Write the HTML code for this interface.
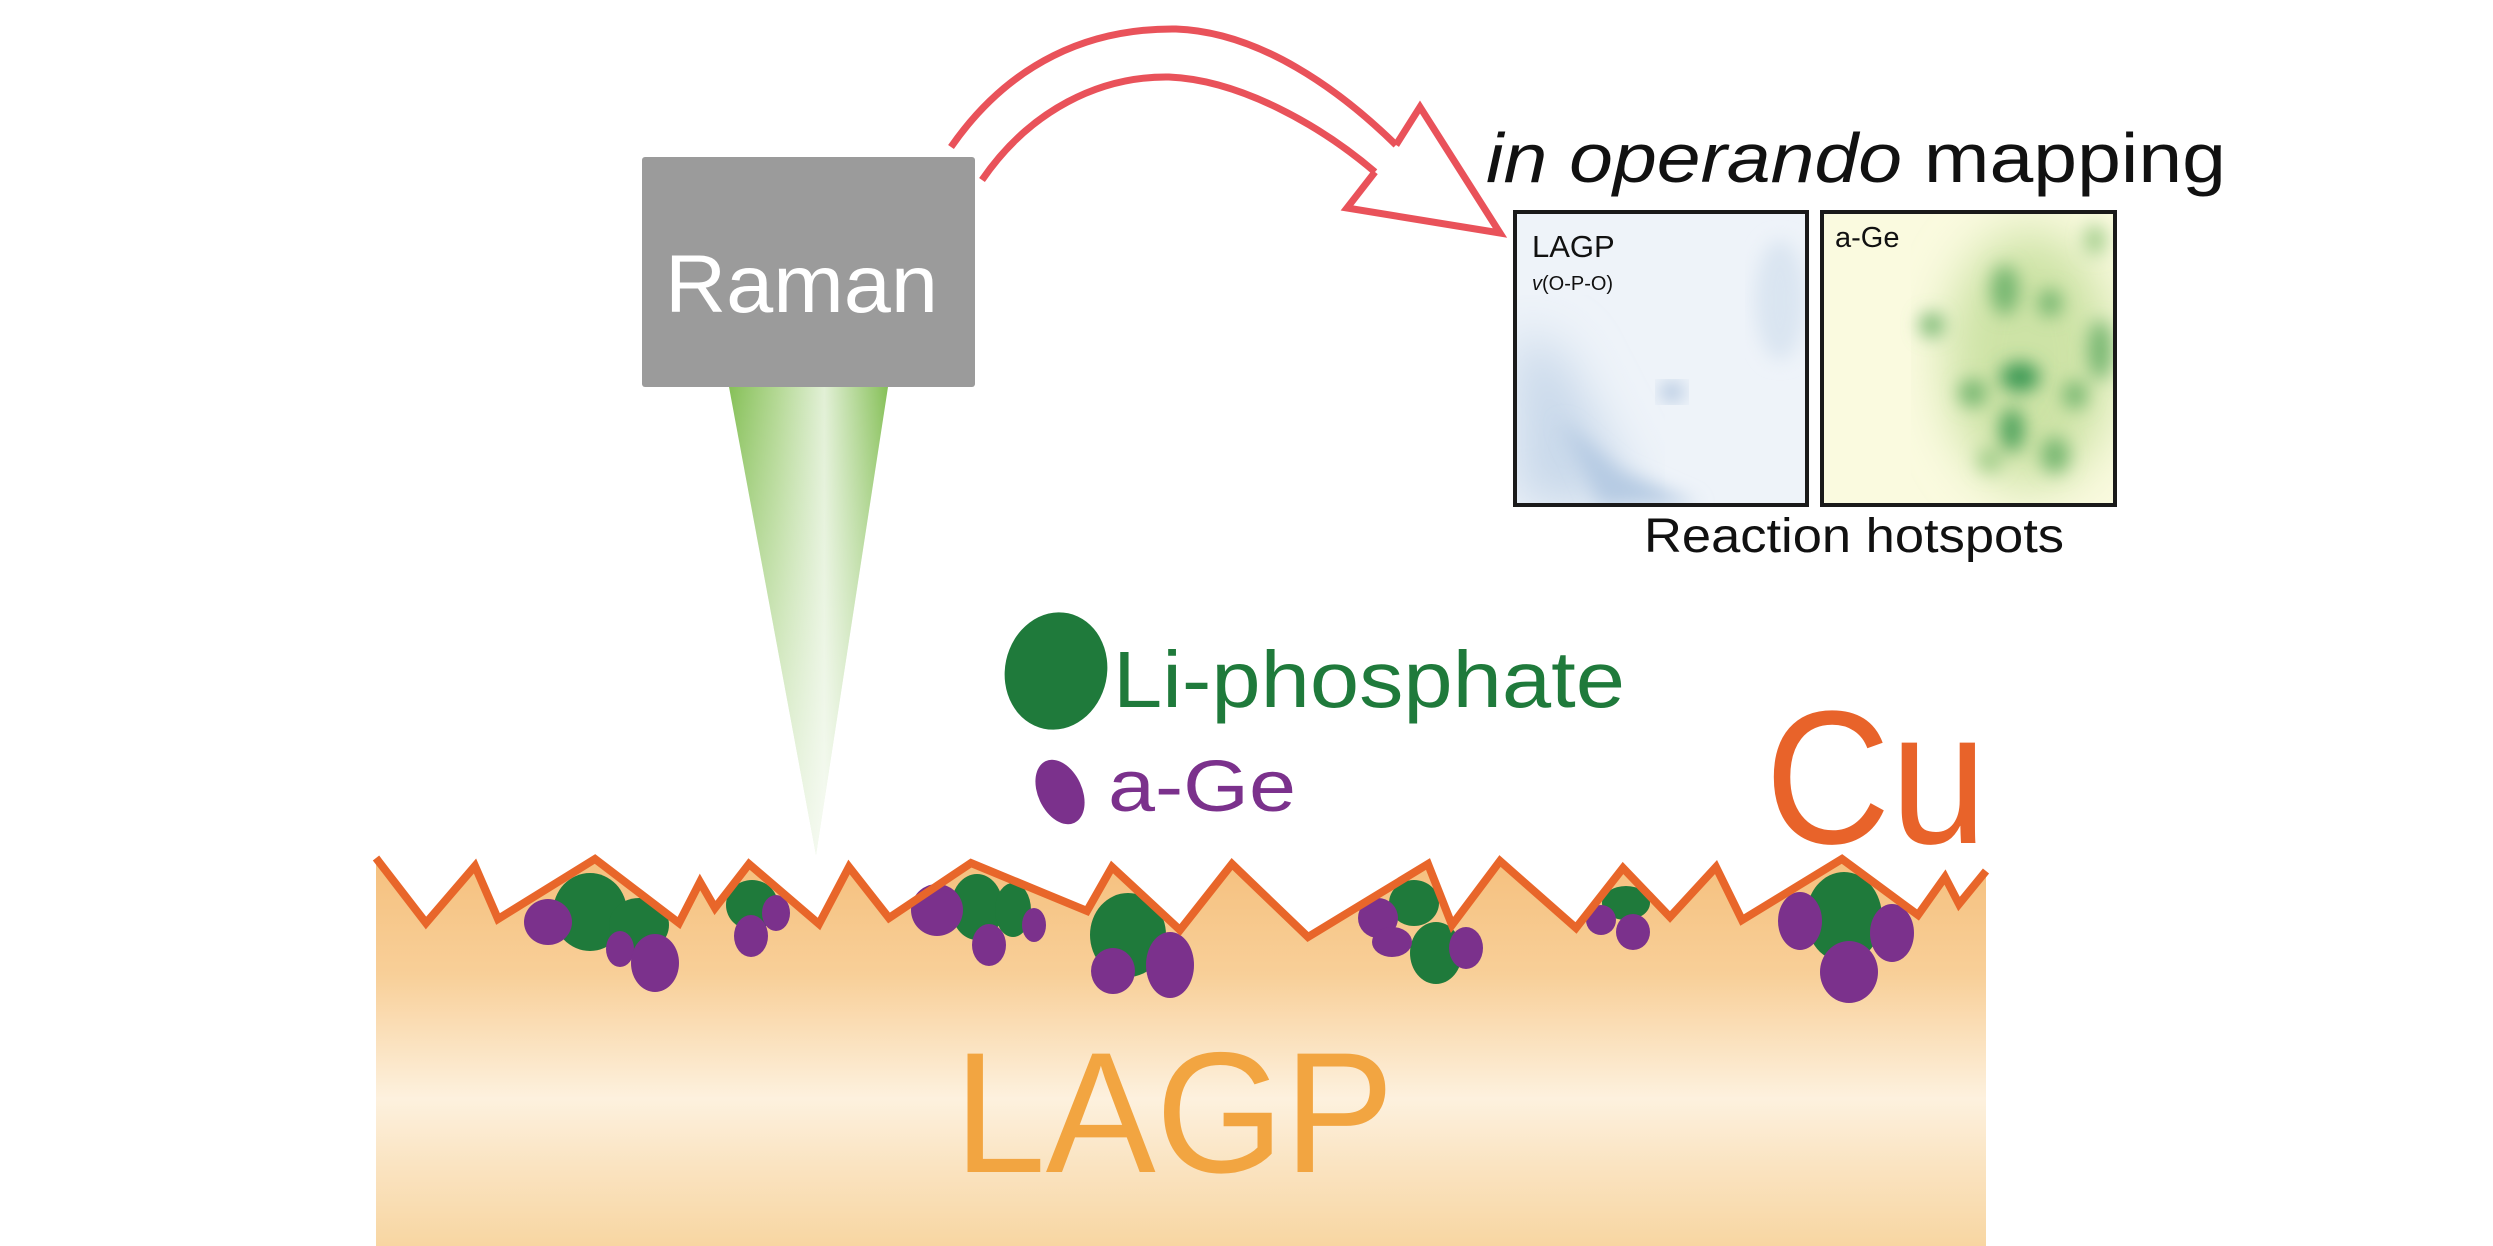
<!DOCTYPE html>
<html><head><meta charset="utf-8"><style>
html,body{margin:0;padding:0;background:#fff;}
svg{display:block;}
text{font-family:"Liberation Sans",Arial,sans-serif;}
</style></head><body>
<svg width="2493" height="1246" viewBox="0 0 2493 1246" xmlns="http://www.w3.org/2000/svg">
<defs>
<linearGradient id="lagp" x1="0" y1="0" x2="0" y2="1" gradientUnits="objectBoundingBox">
<stop offset="0" stop-color="#f5c07e"/>
<stop offset="0.3" stop-color="#f8cf98"/>
<stop offset="0.62" stop-color="#fdf1de"/>
<stop offset="0.8" stop-color="#fae3c0"/>
<stop offset="1" stop-color="#f8d6a2"/>
</linearGradient>
<linearGradient id="beamH" x1="729" y1="0" x2="888" y2="0" gradientUnits="userSpaceOnUse">
<stop offset="0" stop-color="#86c058"/>
<stop offset="0.3" stop-color="#b3d893"/>
<stop offset="0.6" stop-color="#e2f0d6"/>
<stop offset="1" stop-color="#86c058"/>
</linearGradient>
<linearGradient id="beamV" x1="0" y1="387" x2="0" y2="855" gradientUnits="userSpaceOnUse">
<stop offset="0" stop-color="#fff" stop-opacity="0"/>
<stop offset="1" stop-color="#fff" stop-opacity="0.7"/>
</linearGradient>
<filter id="blur" x="-20%" y="-20%" width="140%" height="140%"><feGaussianBlur stdDeviation="9"/></filter>
<filter id="blur2" x="-20%" y="-20%" width="140%" height="140%"><feGaussianBlur stdDeviation="25"/></filter>
<clipPath id="c1"><rect x="1515" y="212" width="292" height="293"/></clipPath>
<clipPath id="c2"><rect x="1822" y="212" width="293" height="293"/></clipPath>
</defs>

<path d="M376,858 L426,923 L475,866 L498,919 L595,859 L679,923 L700,882 L715,908 L749,864 L819,924 L849,867 L889,918 L971,863 L1087,911 L1112,867 L1180,930 L1232,864 L1308,937 L1428,864 L1452,925 L1500,861 L1576,928 L1623,868 L1670,917 L1716,867 L1742,920 L1842,859 L1918,915 L1945,877 L1959,904 L1986,871 L1986,1246 L376,1246 Z" fill="url(#lagp)"/>

<g fill="#1f7a3b">
<ellipse cx="590" cy="912" rx="37" ry="39"/><ellipse cx="639" cy="925" rx="30" ry="27"/>
<ellipse cx="752" cy="905" rx="26" ry="25"/>
<ellipse cx="977" cy="907" rx="26" ry="33"/><ellipse cx="1013" cy="910" rx="18" ry="27"/>
<ellipse cx="1128" cy="935" rx="38" ry="42"/>
<ellipse cx="1414" cy="903" rx="25" ry="23"/><ellipse cx="1436" cy="953" rx="26" ry="31"/>
<ellipse cx="1626" cy="903" rx="24" ry="17"/>
<ellipse cx="1844" cy="917" rx="38" ry="45"/>
</g>
<g fill="#7b318c">
<ellipse cx="548" cy="922" rx="24" ry="23"/><ellipse cx="620" cy="949" rx="14" ry="18"/><ellipse cx="655" cy="963" rx="24" ry="29"/>
<ellipse cx="776" cy="913" rx="14" ry="18"/><ellipse cx="751" cy="936" rx="17" ry="21"/>
<ellipse cx="937" cy="910" rx="26" ry="26"/><ellipse cx="1034" cy="925" rx="12" ry="17"/><ellipse cx="989" cy="945" rx="17" ry="21"/>
<ellipse cx="1113" cy="971" rx="22" ry="23"/><ellipse cx="1170" cy="965" rx="24" ry="33"/>
<ellipse cx="1378" cy="918" rx="20" ry="20"/><ellipse cx="1392" cy="942" rx="20" ry="15"/><ellipse cx="1466" cy="948" rx="17" ry="21"/>
<ellipse cx="1601" cy="920" rx="15" ry="15"/><ellipse cx="1633" cy="932" rx="17" ry="18"/>
<ellipse cx="1800" cy="921" rx="22" ry="29"/><ellipse cx="1892" cy="933" rx="22" ry="29"/><ellipse cx="1849" cy="972" rx="29" ry="31"/>
</g>

<polyline points="376,858 426,923 475,866 498,919 595,859 679,923 700,882 715,908 749,864 819,924 849,867 889,918 971,863 1087,911 1112,867 1180,930 1232,864 1308,937 1428,864 1452,925 1500,861 1576,928 1623,868 1670,917 1716,867 1742,920 1842,859 1918,915 1945,877 1959,904 1986,871" fill="none" stroke="#e8662a" stroke-width="8" stroke-linejoin="miter"/>

<text x="954" y="1172" font-size="172" fill="#f2a541" textLength="440" lengthAdjust="spacingAndGlyphs">LAGP</text>

<polygon points="729,387 888,387 816,855" fill="url(#beamH)"/>
<polygon points="729,387 888,387 816,855" fill="url(#beamV)"/>

<rect x="642" y="157" width="333" height="230" rx="3" fill="#9b9b9b"/>
<text x="665" y="312" font-size="82" fill="#fff" textLength="273" lengthAdjust="spacingAndGlyphs">Raman</text>

<g fill="none" stroke="#e9525a" stroke-width="7" stroke-linejoin="miter">
<path d="M951,147 C1010,62 1090,28 1176,29 C1260,32 1340,90 1396,145"/>
<path d="M982,180 C1030,110 1100,76 1169,77 C1240,80 1320,125 1375,172"/>
<polyline points="1375,172 1347,208 1500,233 1420,107 1396,145"/>
</g>

<text x="1486" y="182" font-size="70" fill="#111" textLength="740" lengthAdjust="spacingAndGlyphs"><tspan font-style="italic">in operando</tspan> mapping</text>

<g clip-path="url(#c1)">
<rect x="1515" y="212" width="292" height="293" fill="#eef3f9"/>
<path d="M1515,330 L1560,350 L1640,505 L1515,505 Z" fill="#c8d8ea" filter="url(#blur2)"/>
<path d="M1600,505 L1560,420 L1620,470 L1700,505 Z" fill="#b6cbe3" filter="url(#blur)"/>
<ellipse cx="1672" cy="392" rx="12" ry="9" fill="#a9c0dc" filter="url(#blur)"/>
<ellipse cx="1780" cy="300" rx="25" ry="60" fill="#dae5f1" filter="url(#blur)"/>
</g>
<rect x="1515" y="212" width="292" height="293" fill="none" stroke="#1a1a1a" stroke-width="4"/>
<text x="1532" y="257" font-size="31" fill="#111">LAGP</text>
<text x="1532" y="290" font-size="20" fill="#111"><tspan font-style="italic">v</tspan>(O-P-O)</text>

<g clip-path="url(#c2)">
<rect x="1822" y="212" width="293" height="293" fill="#fafadf"/>
<g filter="url(#blur2)">
<ellipse cx="2030" cy="360" rx="85" ry="130" fill="#cde3a6"/>
</g>
<g filter="url(#blur)" fill="#74b670">
<ellipse cx="2005" cy="290" rx="14" ry="25"/>
<ellipse cx="2050" cy="303" rx="12" ry="14"/>
<ellipse cx="1932" cy="325" rx="12" ry="12"/>
<ellipse cx="2020" cy="377" rx="20" ry="15" fill="#3e9a55"/>
<ellipse cx="1973" cy="393" rx="14" ry="14"/>
<ellipse cx="2012" cy="430" rx="12" ry="22" fill="#4ea25c"/>
<ellipse cx="2055" cy="455" rx="14" ry="18"/>
<ellipse cx="2100" cy="350" rx="12" ry="30"/>
<ellipse cx="2075" cy="395" rx="12" ry="14"/>
<ellipse cx="1990" cy="460" rx="12" ry="12" fill="#9ccb86"/>
<ellipse cx="2095" cy="240" rx="10" ry="15" fill="#9ccb86"/>
</g>
</g>
<rect x="1822" y="212" width="293" height="293" fill="none" stroke="#1a1a1a" stroke-width="4"/>
<text x="1835" y="247" font-size="29" fill="#111">a-Ge</text>

<text x="1644" y="552" font-size="48" fill="#111" textLength="420" lengthAdjust="spacingAndGlyphs">Reaction hotspots</text>

<ellipse cx="1056" cy="671" rx="51" ry="59" transform="rotate(12 1056 671)" fill="#1f7a3b"/>
<text x="1113" y="707" font-size="80" fill="#1f7a3b" textLength="512" lengthAdjust="spacingAndGlyphs">Li-phosphate</text>
<ellipse cx="1060" cy="792" rx="22" ry="34" transform="rotate(-25 1060 792)" fill="#7b318c"/>
<text x="1108" y="811" font-size="72" fill="#7b318c" textLength="188" lengthAdjust="spacingAndGlyphs">a-Ge</text>

<text x="1765" y="843" font-size="190" fill="#e8632a" textLength="222" lengthAdjust="spacingAndGlyphs">Cu</text>
</svg>
</body></html>
